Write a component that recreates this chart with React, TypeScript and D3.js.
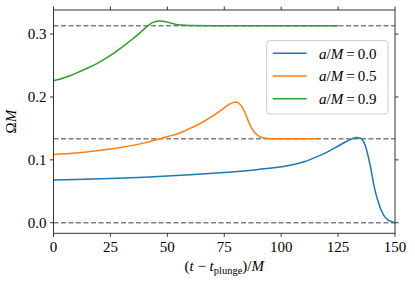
import * as d3 from 'd3'

// a/M = 0.0
const tBlue = [0, 10, 25, 40, 50, 60, 75, 90, 100, 110, 115, 120, 125, 128, 131, 133, 135, 137, 139, 141, 143, 145, 147, 150]
const omegaBlue = [0.068, 0.0688, 0.0703, 0.0725, 0.0742, 0.0762, 0.0800, 0.0848, 0.089, 0.097, 0.104, 0.112, 0.122, 0.128, 0.133, 0.1355, 0.134, 0.122, 0.093, 0.055, 0.029, 0.012, 0.004, 0.0]

// a/M = 0.5
const tOrange = [0, 10, 20, 30, 40, 50, 55, 60, 65, 70, 74, 77, 80, 82, 84, 86, 88, 90, 92, 95, 100, 115.5]
const omegaOrange = [0.1087, 0.111, 0.115, 0.120, 0.127, 0.137, 0.142, 0.150, 0.159, 0.170, 0.180, 0.188, 0.192, 0.188, 0.176, 0.158, 0.145, 0.138, 0.135, 0.1337, 0.1334, 0.1334]

// a/M = 0.9
const tGreen = [0, 5, 10, 15, 20, 25, 30, 35, 38, 41, 44, 47, 50, 53, 56, 60, 70, 125]
const omegaGreen = [0.2258, 0.231, 0.238, 0.246, 0.255, 0.266, 0.279, 0.293, 0.302, 0.312, 0.319, 0.321, 0.319, 0.316, 0.3143, 0.3136, 0.3134, 0.3134]

const spins = ['0.0', '0.5', '0.9']
const colors = ['#1f77b4', '#ff7f0e', '#2ca02c']
const horizonLevels = [0.0, 0.1334, 0.3134]
const xTicks = [0, 25, 50, 75, 100, 125, 150]
const yTicks = [0.0, 0.1, 0.2, 0.3]

const W = 415
const H = 283
const left = 53.5
const right = 395
const top = 10
const bottom = 233.3
const font = '"Liberation Serif", "DejaVu Serif", serif'

export default function App() {
  const x = d3.scaleLinear().domain([0, 150]).range([left, right])
  const y = d3.scaleLinear().domain([-0.0168, 0.3383]).range([bottom, top])

  const line = d3
    .line<[number, number]>()
    .x(d => x(d[0]))
    .y(d => y(d[1]))
    .curve(d3.curveMonotoneX)

  const series = [
    tBlue.map((t, i) => [t, omegaBlue[i]] as [number, number]),
    tOrange.map((t, i) => [t, omegaOrange[i]] as [number, number]),
    tGreen.map((t, i) => [t, omegaGreen[i]] as [number, number])
  ]

  const spine = '#333'
  const tickLen = 3.5

  return (
    <svg
      width={W}
      height={H}
      style={{ position: 'absolute', left: 0, top: 0, background: '#fff' }}
      fontFamily={font}
    >
      <defs>
        <clipPath id="plotArea">
          <rect x={left} y={top} width={right - left} height={bottom - top} />
        </clipPath>
      </defs>

      {/* horizon frequency reference lines */}
      <g clipPath="url(#plotArea)">
        {horizonLevels.map(v => (
          <line
            key={v}
            x1={left}
            x2={right}
            y1={y(v)}
            y2={y(v)}
            stroke="#808080"
            strokeWidth={1.5}
            strokeDasharray="5,2.5"
          />
        ))}
        {series.map((s, i) => (
          <path key={i} d={line(s) || ''} fill="none" stroke={colors[i]} strokeWidth={1.5} />
        ))}
      </g>

      {/* spines */}
      <rect x={left} y={top} width={right - left} height={bottom - top} fill="none" stroke={spine} strokeWidth={1} />

      {/* x ticks, bottom and top */}
      {xTicks.map(t => (
        <g key={t}>
          <line x1={x(t)} x2={x(t)} y1={bottom} y2={bottom + tickLen} stroke={spine} />
          <line x1={x(t)} x2={x(t)} y1={top} y2={top - tickLen} stroke={spine} />
          <text x={x(t)} y={252} textAnchor="middle" fontSize={15} fill="#000">
            {t}
          </text>
        </g>
      ))}

      {/* y ticks, left and right */}
      {yTicks.map(v => (
        <g key={v}>
          <line x1={left} x2={left - tickLen} y1={y(v)} y2={y(v)} stroke={spine} />
          <line x1={right} x2={right + tickLen} y1={y(v)} y2={y(v)} stroke={spine} />
          <text x={left - 7} y={y(v)} dy="0.35em" textAnchor="end" fontSize={15} fill="#000">
            {d3.format('.1f')(v)}
          </text>
        </g>
      ))}

      {/* axis labels */}
      <text x={(left + right) / 2} y={271} textAnchor="middle" fontSize={15} fill="#000">
        (<tspan fontStyle="italic">t</tspan>
        {' \u2212 '}
        <tspan fontStyle="italic">t</tspan>
        <tspan fontSize={10.5} dy={3}>plunge</tspan>
        <tspan dy={-3}>)/</tspan>
        <tspan fontStyle="italic">M</tspan>
      </text>
      <text
        transform={`translate(16,${(top + bottom) / 2}) rotate(-90)`}
        textAnchor="middle"
        fontSize={15}
        fill="#000"
      >
        Ω<tspan fontStyle="italic">M</tspan>
      </text>

      {/* legend */}
      <g>
        <rect x={266.7} y={40.7} width={121.3} height={73.3} rx={3} fill="#fff" fillOpacity={0.8} stroke="#ccc" />
        {spins.map((s, i) => {
          const ly = 53.3 + i * 22.7
          return (
            <g key={s}>
              <line x1={272.7} x2={306.7} y1={ly} y2={ly} stroke={colors[i]} strokeWidth={1.5} />
              <text x={319} y={ly} dy="0.35em" fontSize={15} fill="#000">
                <tspan fontStyle="italic">a</tspan>/<tspan fontStyle="italic">M</tspan>
                {'\u2009=\u2009'}
                {s}
              </text>
            </g>
          )
        })}
      </g>
    </svg>
  )
}
